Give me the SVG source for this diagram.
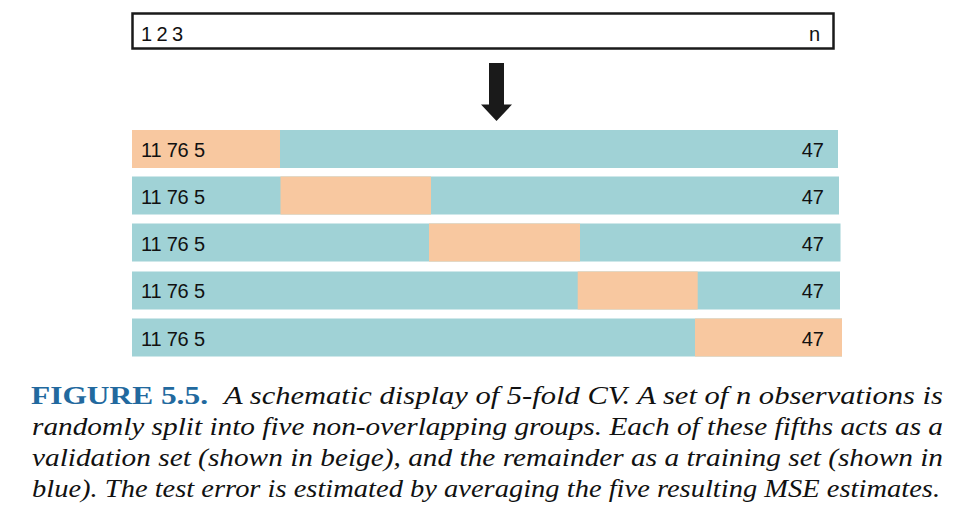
<svg xmlns="http://www.w3.org/2000/svg" width="967" height="514" viewBox="0 0 967 514">
<style>
.lbl{font-family:"Liberation Sans",Arial,sans-serif;font-size:20px;fill:#111}
.tr{fill:#a0d2d6}
.va{fill:#f8c8a0}
.cap{font-family:"Liberation Serif","Times New Roman",serif;font-size:26px;font-style:italic;fill:#111}
.fig{font-family:"Liberation Serif","Times New Roman",serif;font-size:26px;font-weight:bold;fill:#22699e}
</style>
<rect width="967" height="514" fill="#fff"/>
<g id="data">
<rect x="132.5" y="13.5" width="701" height="35" fill="#fff" stroke="#1a1a1a" stroke-width="2.5"/>
<text class="lbl" x="141" y="41" textLength="42">1 2 3</text>
<text class="lbl" x="820" y="41" text-anchor="end">n</text>
</g>
<g id="connectors">
<polygon points="489,63 504,63 504,104.5 512,104.5 496.5,121 481,104.5 489,104.5" fill="#1a1a1a"/>
</g>
<g id="fold1">
<rect class="tr" x="132" y="130" width="706" height="38"/>
<rect class="va" x="132" y="130" width="148" height="38"/>
<text class="lbl" x="141" y="157" textLength="64">11 76 5</text>
<text class="lbl" x="824" y="157" text-anchor="end">47</text>
</g>
<g id="fold2">
<rect class="tr" x="132" y="176.5" width="707" height="38"/>
<rect class="va" x="280.5" y="176.5" width="150.5" height="38"/>
<text class="lbl" x="141" y="203.5" textLength="64">11 76 5</text>
<text class="lbl" x="824" y="203.5" text-anchor="end">47</text>
</g>
<g id="fold3">
<rect class="tr" x="132" y="223.5" width="708.5" height="38"/>
<rect class="va" x="429" y="223.5" width="151" height="38"/>
<text class="lbl" x="141" y="250.5" textLength="64">11 76 5</text>
<text class="lbl" x="824" y="250.5" text-anchor="end">47</text>
</g>
<g id="fold4">
<rect class="tr" x="132" y="271.5" width="708" height="38"/>
<rect class="va" x="577.7" y="271.5" width="120" height="38"/>
<text class="lbl" x="141" y="298" textLength="64">11 76 5</text>
<text class="lbl" x="824" y="298" text-anchor="end">47</text>
</g>
<g id="fold5">
<rect class="tr" x="132" y="318.5" width="710" height="38"/>
<rect class="va" x="695" y="318.5" width="147" height="38"/>
<text class="lbl" x="141" y="346" textLength="64">11 76 5</text>
<text class="lbl" x="824" y="346" text-anchor="end">47</text>
</g>
<g id="caption">
<text class="fig" x="31" y="404" textLength="177" lengthAdjust="spacingAndGlyphs">FIGURE 5.5.</text>
<text class="cap" x="224" y="404" textLength="719" lengthAdjust="spacingAndGlyphs">A schematic display of 5-fold CV. A set of n observations is</text>
<text class="cap" x="32" y="435" textLength="911" lengthAdjust="spacingAndGlyphs">randomly split into five non-overlapping groups. Each of these fifths acts as a</text>
<text class="cap" x="32" y="466" textLength="911" lengthAdjust="spacingAndGlyphs">validation set (shown in beige), and the remainder as a training set (shown in</text>
<text class="cap" x="32" y="497" textLength="908" lengthAdjust="spacingAndGlyphs">blue). The test error is estimated by averaging the five resulting MSE estimates.</text>
</g>
</svg>
